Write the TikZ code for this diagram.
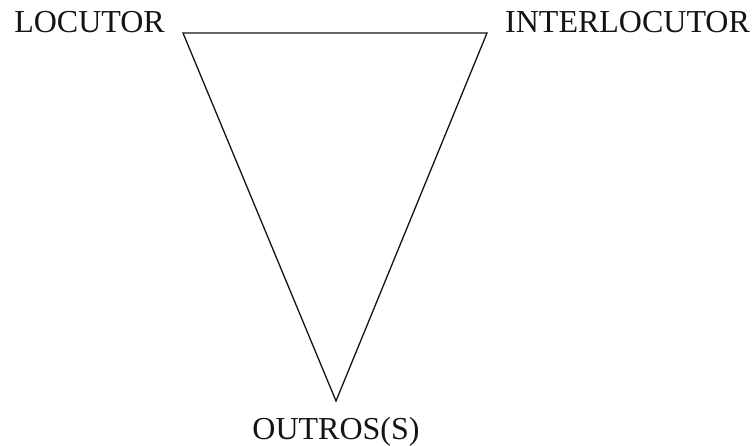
\documentclass[tikz,border=0pt]{standalone}
\usepackage{fontspec}
\setmainfont{Liberation Serif}
\usetikzlibrary{positioning,calc}
\definecolor{ink}{RGB}{20,20,20}
\tikzset{
  lbl/.style={font=\fontsize{32}{36}\selectfont,text=ink,inner sep=0pt},
  edge/.style={draw=ink,line width=1.3pt,line join=miter},
}
\begin{document}
\begin{tikzpicture}[x=1pt,y=-1pt]
  \useasboundingbox (0,0) rectangle (752,446);
  \coordinate (L) at (183,33);
  \coordinate (I) at (487,33);
  \coordinate (O) at (336,401);
  \draw[edge] (L) -- (I) -- (O) -- cycle;
  \node[lbl,anchor=base east] (locutor) at ([xshift=-18] L) {LOCUTOR};
  \node[lbl,anchor=base west] (interlocutor) at ([xshift=18] I) {INTERLOCUTOR};
  \node[lbl,anchor=base] (outros) at ([yshift=-38] O) {OUTROS(S)};
\end{tikzpicture}
\end{document}
